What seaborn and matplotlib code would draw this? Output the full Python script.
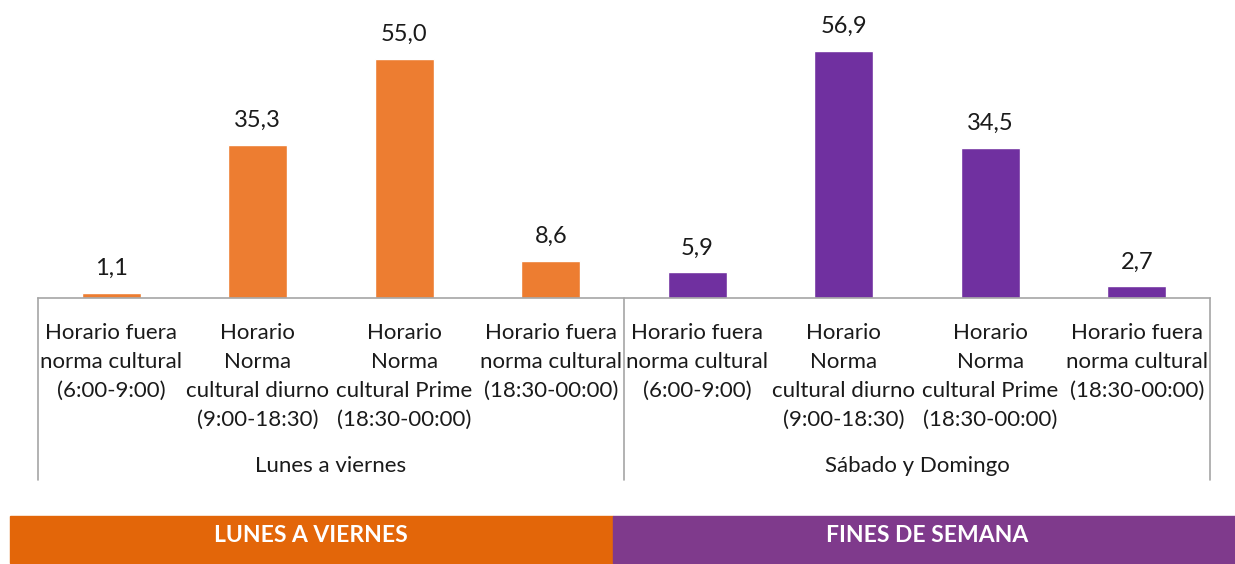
import matplotlib
matplotlib.use("Agg")
import matplotlib.pyplot as plt
import seaborn as sns
import pandas as pd
from matplotlib.patches import Rectangle

sns.set_theme(style="white")
plt.rcParams['font.family'] = ['Lato', 'DejaVu Sans']

categories = [
    "Horario fuera\nnorma cultural\n(6:00-9:00)",
    "Horario\nNorma\ncultural diurno\n(9:00-18:30)",
    "Horario\nNorma\ncultural Prime\n(18:30-00:00)",
    "Horario fuera\nnorma cultural\n(18:30-00:00)",
    "Horario fuera\nnorma cultural\n(6:00-9:00)",
    "Horario\nNorma\ncultural diurno\n(9:00-18:30)",
    "Horario\nNorma\ncultural Prime\n(18:30-00:00)",
    "Horario fuera\nnorma cultural\n(18:30-00:00)",
]
groups = ["Lunes a viernes"] * 4 + ["Sábado y Domingo"] * 4
values = [1.1, 35.3, 55.0, 8.6, 5.9, 56.9, 34.5, 2.7]
group_labels = ["Lunes a viernes", "Sábado y Domingo"]
banner_labels = ["LUNES A VIERNES", "FINES DE SEMANA"]

bar_colors = {"Lunes a viernes": "#ED7D31", "Sábado y Domingo": "#7030A0"}
banner_colors = ["#E36609", "#7F3A8C"]

df = pd.DataFrame({"id": [f"c{i}" for i in range(len(values))],
                   "value": values, "group": groups})

W, H = 1235, 564
fig = plt.figure(figsize=(W / 100, H / 100), dpi=100)
ax = fig.add_axes([38 / W, 1 - 298 / H, 1172 / W, 298 / H])

sns.barplot(data=df, x="id", y="value", hue="group", palette=bar_colors,
            dodge=False, width=0.4, ax=ax, legend=False, saturation=1)

ax.set_xlim(-0.5, 7.5)
ax.set_ylim(0, 68.6)
ax.set_yticks([])
ax.set_xlabel("")
ax.set_ylabel("")
ax.set_xticks(range(len(categories)))
ax.set_xticklabels(categories, fontsize=16, color="#1a1a1a", linespacing=1.56)
ax.tick_params(axis="x", length=0, pad=18)
for s in ["top", "left", "right"]:
    ax.spines[s].set_visible(False)
ax.spines["bottom"].set_color("#A6A6A6")
ax.spines["bottom"].set_linewidth(1.2)

for cont in ax.containers:
    labs = [f"{v:.1f}".replace(".", ",") if v == v else "" for v in cont.datavalues]
    ax.bar_label(cont, labels=labs, padding=10, fontsize=17, color="#1a1a1a")

tr = ax.get_xaxis_transform()
sep_bottom = -(480 - 298) / 298
for xv in [-0.5, 3.5, 7.5]:
    ax.plot([xv, xv], [0, sep_bottom], transform=tr, color="#A6A6A6",
            lw=1.2, clip_on=False)

gy = -(466 - 298) / 298
for i, g in enumerate(group_labels):
    ax.text(1.5 + 4 * i, gy, g, transform=tr, ha="center", va="center",
            fontsize=16, color="#1a1a1a")

# bottom banner
by0 = 1 - 563 / H
bh = 47 / H
fig.patches.append(Rectangle((10 / W, by0), (613 - 10) / W, bh,
                             transform=fig.transFigure, color=banner_colors[0]))
fig.patches.append(Rectangle((613 / W, by0), (W - 613) / W, bh,
                             transform=fig.transFigure, color=banner_colors[1]))
fig.text(311 / W, 1 - 535 / H, banner_labels[0], ha="center", va="center",
         fontsize=16.5, fontweight="bold", color="white")
fig.text(927 / W, 1 - 535 / H, banner_labels[1], ha="center", va="center",
         fontsize=16.5, fontweight="bold", color="white")

fig.savefig("out.png", dpi=100)
